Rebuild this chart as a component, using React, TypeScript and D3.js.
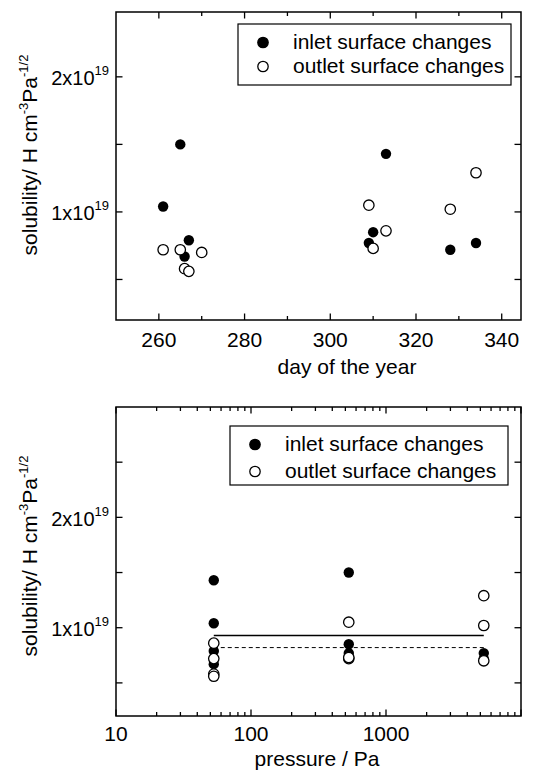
import * as d3 from "d3";

// solubility values in units of 1x10^19 H cm^-3 Pa^-1/2
const inletDay = [261, 265, 266, 267, 309, 310, 313, 328, 334];
const inletPressure = [53, 530, 53, 53, 530, 530, 53, 5300, 5300];
const inletSolubility = [1.04, 1.5, 0.67, 0.79, 0.77, 0.85, 1.43, 0.72, 0.77];

const outletDay = [261, 265, 266, 267, 270, 309, 310, 313, 328, 334];
const outletPressure = [53, 530, 53, 53, 5300, 530, 530, 53, 5300, 5300];
const outletSolubility = [0.72, 0.72, 0.58, 0.56, 0.7, 1.05, 0.73, 0.86, 1.02, 1.29];

// mean levels drawn across the pressure range
const meanPressureRange = [53, 5300];
const inletMean = 0.93;
const outletMean = 0.82;

const dayTicks = [260, 280, 300, 320, 340];
const dayMinorTicks = [270, 290, 310, 330];
const solTicks = [0.5, 1, 1.5, 2];
const solTicksBottom = [0.5, 1, 1.5, 2, 2.5];
const solLabels = [1, 2];
const pressureTicks = [10, 100, 1000, 10000];
const pressureLabels = [10, 100, 1000];
const legendLabels = ["inlet surface changes", "outlet surface changes"];

const FONT = "'Liberation Sans', Arial, Helvetica, sans-serif";
const R = 5.2;

function YTitle({ x, y }: { x: number; y: number }) {
  return (
    <text
      transform={`translate(${x},${y}) rotate(-90)`}
      textAnchor="middle"
      fontSize={21}
      fontFamily={FONT}
    >
      solubility/ H cm
      <tspan dy={-9} fontSize={13}>-3</tspan>
      <tspan dy={9}>Pa</tspan>
      <tspan dy={-9} fontSize={13}>-1/2</tspan>
    </text>
  );
}

function YLabels({ y, x0 }: { y: any; x0: number }) {
  return (
    <g fontFamily={FONT}>
      {solLabels.map((v) => (
        <text key={v} x={x0 - 7} y={y(v) + 8.5} textAnchor="end" fontSize={20}>
          {v}x10
          <tspan dy={-10} fontSize={13}>19</tspan>
        </text>
      ))}
    </g>
  );
}

function Legend({ x, y, w, h, rowGap }: any) {
  return (
    <g fontFamily={FONT}>
      <rect x={x} y={y} width={w} height={h} fill="white" stroke="black" strokeWidth={1.2} />
      {legendLabels.map((t, i) => {
        const cy = y + 18.5 + i * rowGap;
        return (
          <g key={t}>
            <circle
              cx={x + 25}
              cy={cy}
              r={R}
              fill={i === 0 ? "black" : "white"}
              stroke="black"
              strokeWidth={1.3}
            />
            <text x={x + 55} y={cy + 6} fontSize={21}>
              {t}
            </text>
          </g>
        );
      })}
    </g>
  );
}

function Points({ xs, ys, fx, fy }: any) {
  const inlet = xs[0].map((d: number, i: number) => [fx(d), fy(ys[0][i])]);
  const outlet = xs[1].map((d: number, i: number) => [fx(d), fy(ys[1][i])]);
  return (
    <g>
      {inlet.map((p: number[], i: number) => (
        <circle key={"i" + i} cx={p[0]} cy={p[1]} r={R} fill="black" />
      ))}
      {outlet.map((p: number[], i: number) => (
        <circle key={"o" + i} cx={p[0]} cy={p[1]} r={R} fill="white" stroke="black" strokeWidth={1.3} />
      ))}
    </g>
  );
}

export default function App() {
  const L = 116;
  const Rt = 521;

  // top panel
  const T1 = 12;
  const B1 = 320;
  const x1 = d3.scaleLinear().domain([250, 344.5]).range([L, Rt]);
  const y1 = d3.scaleLinear().domain([0.2, 2.48]).range([B1, T1]);

  // bottom panel
  const T2 = 407;
  const B2 = 716;
  const x2 = d3.scaleLog().domain([10, 10000]).range([L, Rt]);
  const y2 = d3.scaleLinear().domain([0.2, 3.0]).range([B2, T2]);
  const minorP: number[] = [];
  [10, 100, 1000].forEach((dec) => {
    for (let k = 2; k <= 9; k++) minorP.push(dec * k);
  });

  const MAJ = 6.5;
  const MIN = 4;

  return (
    <div style={{ position: "absolute", left: 0, top: 0 }}>
      <svg width={538} height={773} style={{ display: "block", background: "white" }}>
        {/* ---------- top panel ---------- */}
        <g stroke="black" strokeWidth={1.3}>
          {dayTicks.map((d) => (
            <g key={d}>
              <line x1={x1(d)} x2={x1(d)} y1={B1} y2={B1 - MAJ} />
              <line x1={x1(d)} x2={x1(d)} y1={T1} y2={T1 + MAJ} />
            </g>
          ))}
          {dayMinorTicks.map((d) => (
            <g key={d}>
              <line x1={x1(d)} x2={x1(d)} y1={B1} y2={B1 - MIN} />
              <line x1={x1(d)} x2={x1(d)} y1={T1} y2={T1 + MIN} />
            </g>
          ))}
          {solTicks.map((v) => (
            <g key={v}>
              <line x1={L} x2={L + MAJ} y1={y1(v)} y2={y1(v)} />
              <line x1={Rt} x2={Rt - MAJ} y1={y1(v)} y2={y1(v)} />
            </g>
          ))}
        </g>
        <rect x={L} y={T1} width={Rt - L} height={B1 - T1} fill="none" stroke="black" strokeWidth={1.5} />
        <Points xs={[inletDay, outletDay]} ys={[inletSolubility, outletSolubility]} fx={x1} fy={y1} />
        <Legend x={238} y={24} w={273} h={61} rowGap={24} />
        <g fontFamily={FONT} fontSize={21} textAnchor="middle">
          {dayTicks.map((d) => (
            <text key={d} x={x1(d)} y={B1 + 27}>
              {d}
            </text>
          ))}
          <text x={347} y={374}>day of the year</text>
        </g>
        <YLabels y={y1} x0={L} />
        <YTitle x={37} y={155} />

        {/* ---------- bottom panel ---------- */}
        <g stroke="black" strokeWidth={1.3}>
          {pressureTicks.map((p) => (
            <g key={p}>
              <line x1={x2(p)} x2={x2(p)} y1={B2} y2={B2 - MAJ} />
              <line x1={x2(p)} x2={x2(p)} y1={T2} y2={T2 + MAJ} />
            </g>
          ))}
          {minorP.map((p) => (
            <g key={p}>
              <line x1={x2(p)} x2={x2(p)} y1={B2} y2={B2 - MIN} />
              <line x1={x2(p)} x2={x2(p)} y1={T2} y2={T2 + MIN} />
            </g>
          ))}
          {solTicksBottom.map((v) => (
            <g key={v}>
              <line x1={L} x2={L + MAJ} y1={y2(v)} y2={y2(v)} />
              <line x1={Rt} x2={Rt - MAJ} y1={y2(v)} y2={y2(v)} />
            </g>
          ))}
        </g>
        <rect x={L} y={T2} width={Rt - L} height={B2 - T2} fill="none" stroke="black" strokeWidth={1.5} />
        <line
          x1={x2(meanPressureRange[0])}
          x2={x2(meanPressureRange[1])}
          y1={y2(inletMean)}
          y2={y2(inletMean)}
          stroke="black"
          strokeWidth={1.6}
        />
        <line
          x1={x2(meanPressureRange[0])}
          x2={x2(meanPressureRange[1])}
          y1={y2(outletMean)}
          y2={y2(outletMean)}
          stroke="black"
          strokeWidth={1}
          strokeDasharray="4,3"
        />
        <Points xs={[inletPressure, outletPressure]} ys={[inletSolubility, outletSolubility]} fx={x2} fy={y2} />
        <Legend x={230} y={426} w={278} h={59} rowGap={27} />
        <g fontFamily={FONT} fontSize={21} textAnchor="middle">
          {pressureLabels.map((p) => (
            <text key={p} x={x2(p)} y={B2 + 25}>
              {p}
            </text>
          ))}
          <text x={317} y={766}>pressure / Pa</text>
        </g>
        <YLabels y={y2} x0={L} />
        <YTitle x={37} y={556} />
      </svg>
    </div>
  );
}
